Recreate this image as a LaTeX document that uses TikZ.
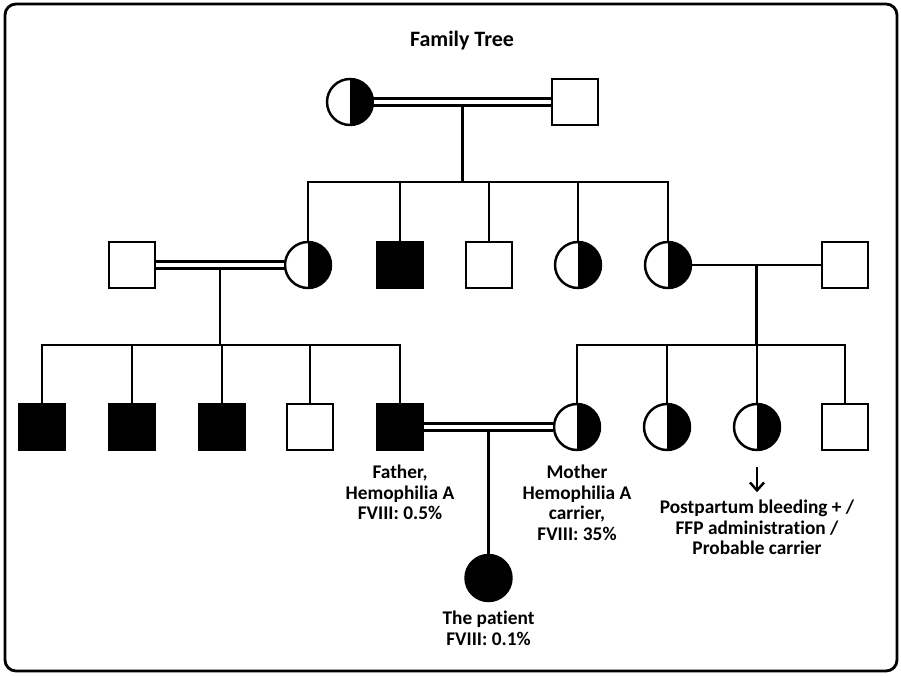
\documentclass[tikz,border=0pt]{standalone}
\usepackage{fontspec}
\setmainfont{Carlito}[Ligatures={NoCommon}]
\usetikzlibrary{arrows.meta, positioning, calc}

\begin{document}
\begin{tikzpicture}[x=0.02cm, y=-0.02cm,
      male/.style={rectangle, draw, line width=1.4pt, minimum size=0.92cm,
      inner sep=0pt}, female/.style={circle, draw, line width=1.4pt,
      minimum size=0.92cm, inner sep=0pt}, affected/.style={fill=black},
      carrier/.style={female, path picture={\fill (path picture bounding
      box.north) rectangle (path picture bounding box.south east);}},
      line/.style={line width=1.4pt},
      marriage/.style={line width=1.4pt, double=white, double distance=2.6pt},
      pointer/.style={line width=1.4pt, -{Straight Barb[length=4.5pt, width=8pt]}},
      caption/.style={font=\bfseries\fontsize{11pt}{11.9pt}\selectfont,
      align=center, inner sep=0pt, anchor=north} ]
    \useasboundingbox (0,0) rectangle (901,675);
    \draw[line width=1.6pt, rounded corners=0.22cm] (5,4) rectangle (897,671);

    % Title
    \node[font=\bfseries\fontsize{12.5pt}{14pt}\selectfont, anchor=base,
    inner sep=0pt] (title) at (462,47) {Family Tree};

    % Generation I
    \node[carrier] (gm) at (350,102) {}; \node[male] (gf) at (575,102) {};

    % Generation II
    \node[male] (h1) at (132,265) {}; \node[carrier] (d1) at (308,265) {};
    \node[male, affected] (s1) at (400,265) {}; \node[male] (s2) at (489,265)
    {}; \node[carrier] (d2) at (578,265) {}; \node[carrier] (d3) at (668,265)
    {}; \node[male] (h3) at (845,265) {};

    % Generation III
    \foreach \x/\n in {42/g1, 132/g2, 222/g3}
      \node[male, affected] (\n) at (\x,427) {};
    \node[male] (g4) at (310,427) {}; \node[male, affected] (father) at
    (400,427) {}; \node[carrier] (mother) at (577,427) {}; \node[carrier] (g7)
    at (667,427) {}; \node[carrier] (g8) at (757,427) {}; \node[male] (g9) at
    (845,427) {};

    % Patient
    \coordinate (m3) at ($(father.east)!.5!(mother.west)$);
    \node[female, affected] (patient) at ($(m3)+(0,151)$) {};

    % Descent lines
    \coordinate (m0) at ($(gm.east)!.5!(gf.west)$);
    \coordinate (b0) at ($(m0)+(0,80)$);
    \draw[line] (m0) -- (b0);
    \draw[line] (d1.north) |- (b0) -| (d3.north);
    \foreach \n in {s1,s2,d2} \draw[line] (\n.north) -- (\n.north |- b0);

    \coordinate (m1) at ($(h1.east)!.5!(d1.west)$);
    \coordinate (b1) at ($(m1)+(0,80)$);
    \draw[line] (m1) -- (b1);
    \draw[line] (g1.north) |- (b1) -| (father.north);
    \foreach \n in {g2,g3,g4} \draw[line] (\n.north) -- (\n.north |- b1);

    \coordinate (m2) at ($(d3.east)!.5!(h3.west)$);
    \coordinate (b2) at ($(m2)+(0,80)$);
    \draw[line] (m2) -- (b2);
    \draw[line] (mother.north) |- (b2) -| (g9.north);
    \foreach \n in {g7,g8} \draw[line] (\n.north) -- (\n.north |- b2);

    \draw[line] (m3) -- (patient.north);

    % Couples
    \draw[marriage] (gm) -- (gf);
    \draw[marriage] (h1) -- (d1);
    \draw[line] (d3) -- (h3);
    \draw[marriage] (father) -- (mother);

    % Labels
    \node[caption] (lfather) at ($(father.south)+(0,13)$)
    {Father,\\Hemophilia A\\FVIII: 0.5\%};
    \node[caption] (lmother) at ($(mother.south)+(0,13)$)
    {Mother\\Hemophilia A\\carrier,\\FVIII: 35\%};
    \node[caption] (lpatient) at ($(patient.south)+(0,8)$)
    {The patient\\FVIII: 0.1\%};
    \node[caption] (note) at ($(g8.south)+(0,48)$)
    {Postpartum bleeding + /\\FFP administration /\\Probable carrier};
    \coordinate (ar) at ($(g8.south)+(0,16)$);
    \coordinate (tip) at ($(g8.south)+(0,41)$);
    \draw[pointer] (ar) -- (tip);

    \end{tikzpicture}
\end{document}
